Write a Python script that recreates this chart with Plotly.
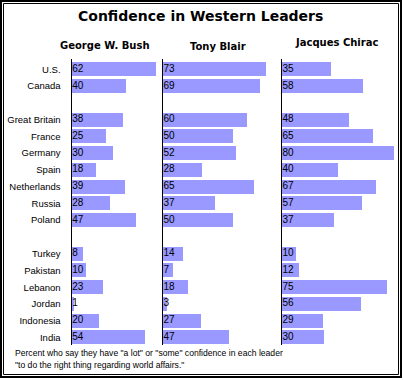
import plotly.graph_objects as go

countries = ["U.S.", "Canada", "Great Britain", "France", "Germany", "Spain",
             "Netherlands", "Russia", "Poland", "Turkey", "Pakistan", "Lebanon",
             "Jordan", "Indonesia", "India"]
category_order = ["U.S.", "Canada", " ", "Great Britain", "France", "Germany", "Spain",
                  "Netherlands", "Russia", "Poland", "  ", "Turkey", "Pakistan", "Lebanon",
                  "Jordan", "Indonesia", "India"]
leaders = ["George W. Bush", "Tony Blair", "Jacques Chirac"]
bush = [62, 40, 38, 25, 30, 18, 39, 28, 47, 8, 10, 23, 1, 20, 54]
blair = [73, 69, 60, 50, 52, 28, 65, 37, 50, 14, 7, 18, 3, 27, 47]
chirac = [35, 58, 48, 65, 80, 40, 67, 57, 37, 10, 12, 75, 56, 29, 30]
title = "Confidence in Western Leaders"
note1 = 'Percent who say they have "a lot" or "some" confidence in each leader'
note2 = '"to do the right thing regarding world affairs."'

W, H = 403, 380
BAR = "#9999FF"

def px(x):
    return x / W

def py(y):
    return 1 - y / H

fig = go.Figure()
series = [bush, blair, chirac]
axes = [("x", "y"), ("x2", "y2"), ("x3", "y3")]
for vals, (xa, ya) in zip(series, axes):
    fig.add_trace(go.Bar(x=vals, y=countries, orientation="h", xaxis=xa, yaxis=ya,
                         marker=dict(color=BAR, line=dict(width=0)), width=0.835,
                         hoverinfo="skip", showlegend=False))
    fig.add_trace(go.Scatter(x=[0.6] * len(vals), y=countries, mode="text",
                             text=[str(v) for v in vals], textposition="middle right",
                             textfont=dict(family="Liberation Sans, Arial", size=10, color="black"),
                             xaxis=xa, yaxis=ya, hoverinfo="skip", showlegend=False,
                             cliponaxis=False))

# panel geometry (pixels)
panels = [(71.5, 1.355, 66), (162.7, 1.405, 78), (281.7, 1.405, 80)]
ytop, ybot = 59, 345
yrange = [16.45, -0.615]

layout = dict(
    width=W, height=H, margin=dict(l=0, r=0, t=0, b=0),
    paper_bgcolor="white", plot_bgcolor="white",
    bargap=0, showlegend=False,
)
for i, (x0, scale, rmax) in enumerate(panels):
    sfx = "" if i == 0 else str(i + 1)
    layout["xaxis" + sfx] = dict(domain=[px(x0), px(x0 + scale * rmax)], range=[0, rmax],
                                 visible=False, fixedrange=True,
                                 anchor="y" + sfx)
    yax = dict(domain=[py(ybot), py(ytop)], type="category",
               categoryorder="array", categoryarray=category_order,
               range=yrange, showline=True, linecolor="black", linewidth=1,
               showgrid=False, zeroline=False, ticks="",
               anchor="x" + sfx, fixedrange=True)
    if i == 0:
        yax.update(showticklabels=True, ticklabelstandoff=8,
                   tickfont=dict(family="Liberation Sans, Arial", size=9.5, color="black"))
    else:
        yax.update(showticklabels=False, matches="y")
    layout["yaxis" + sfx] = yax

annotations = [
    dict(text="<b>" + title + "</b>", x=px(200), y=py(16.5), xref="paper", yref="paper",
         xanchor="center", yanchor="middle", showarrow=False,
         font=dict(family="DejaVu Sans", size=14, color="black")),
]
header_pos = [(105, 45.5), (217.5, 46), (336.7, 42)]
for name, (hx, hy) in zip(leaders, header_pos):
    annotations.append(dict(text="<b>" + name + "</b>", x=px(hx), y=py(hy),
                            xref="paper", yref="paper", xanchor="center", yanchor="middle",
                            showarrow=False,
                            font=dict(family="DejaVu Sans", size=10, color="black")))
for txt, ny in [(note1, 353), (note2, 365)]:
    annotations.append(dict(text=txt, x=px(13), y=py(ny), xref="paper", yref="paper",
                            xanchor="left", yanchor="middle", showarrow=False,
                            font=dict(family="Liberation Sans, Arial", size=8.6, color="black")))
layout["annotations"] = annotations

layout["shapes"] = [
    dict(type="rect", xref="paper", yref="paper", x0=px(1), x1=px(401), y0=py(1), y1=py(377),
         line=dict(color="black", width=2), fillcolor="rgba(0,0,0,0)"),
    dict(type="rect", xref="paper", yref="paper", x0=px(3.5), x1=px(398.5), y0=py(3.5), y1=py(374.5),
         line=dict(color="black", width=1), fillcolor="rgba(0,0,0,0)"),
]

fig.update_layout(**layout)
fig.write_html("out.html", config={"displayModeBar": False},
               post_script="document.body.style.margin='0';document.body.style.overflow='hidden';")
